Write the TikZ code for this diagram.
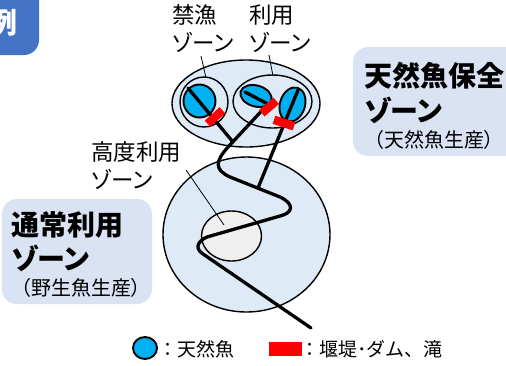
\documentclass[tikz,border=0pt]{standalone}
\usepackage{fontspec}
\setmainfont{Noto Sans CJK JP}[RawFeature=+palt]
\newfontfamily\legfont{Noto Sans CJK JP}
\usetikzlibrary{shapes.geometric}
\definecolor{boxblue}{HTML}{DAE3F3}
\definecolor{zoneblue}{HTML}{DEEBF7}
\definecolor{fishblue}{HTML}{00B0F0}
\definecolor{tabblue}{HTML}{4472C4}
\definecolor{innergray}{HTML}{EFEFEF}
\definecolor{damred}{HTML}{FF0000}
\begin{document}
\begin{tikzpicture}[x=1pt,y=-1pt,
  zone/.style={ellipse, draw=black, line width=1.4pt, fill=zoneblue, inner sep=0pt, outer sep=0pt},
  ring/.style={ellipse, draw=black, line width=1.4pt, inner sep=0pt, outer sep=0pt},
  fish/.style={ellipse, draw=black, line width=1.9pt, fill=fishblue, inner sep=0pt, outer sep=0pt},
  dam/.style={rectangle, fill=damred, inner sep=0pt, outer sep=0pt},
  river/.style={line width=3.3pt, line cap=round, line join=round},
  leader/.style={line width=0.8pt},
  lbl/.style={anchor=west, inner sep=0pt, font=\fontsize{22.5}{22.5}\selectfont},
  ttl/.style={anchor=west, inner sep=0pt, font=\fontsize{28}{28}\selectfont\bfseries},
  sub/.style={anchor=west, inner sep=0pt, font=\fontsize{20}{20}\selectfont},
  leg/.style={anchor=west, inner sep=0pt, font=\legfont\fontsize{19}{19}\selectfont}
]
\useasboundingbox (0,0) rectangle (506,365);
\clip (0,0) rectangle (506,365);
\fill[white] (0,0) rectangle (506,365);

% tab
\fill[tabblue, rounded corners=15pt] (-30,-30) rectangle (39,55);
\node[anchor=center, inner sep=0pt, text=white, font=\fontsize{29}{29}\selectfont\bfseries] (tab) at (3,22) {例};

% side boxes
\fill[boxblue, rounded corners=15pt] (353,47) rectangle (540,156);
\fill[boxblue, rounded corners=15pt] (2,199) rectangle (152,304);
\node[ttl] (t1a) at (364,76) {天然魚保全};
\node[ttl] (t1b) at (364,110) {ゾーン};
\node[sub] (t1c) at (374,140) {（天然魚生産）};
\node[ttl] (t2a) at (11,225) {通常利用};
\node[ttl] (t2b) at (11,258) {ゾーン};
\node[sub] (t2c) at (21,288) {（野生魚生産）};

% zones
\node[zone, minimum width=148pt, minimum height=87pt] (upper) at (246,103.5) {};
\node[zone, minimum width=167pt, minimum height=155pt] (lower) at (246.5,234.5) {};
\node[ellipse, draw=black, line width=1.4pt, fill=innergray, inner sep=0pt, minimum width=60pt, minimum height=50pt] (core) at (231.5,236) {};
\node[ring, minimum width=48pt, minimum height=50pt] (ringL) at (204,102) {};
\node[ring, minimum width=79pt, minimum height=53pt] (ringR) at (272.5,101.5) {};

% fish
\node[fish, minimum width=32pt, minimum height=33pt] (fishL) at (199.5,101) {};
\node[fish, minimum width=32pt, minimum height=21pt, rotate=-16] (fishM) at (256,96) {};
\node[fish, minimum width=25pt, minimum height=35pt, rotate=-17] (fishR) at (292.5,104.5) {};

% river
\coordinate (m0) at (245,92);
\coordinate (m1) at (268,104);
\coordinate (m2) at (229,146);
\coordinate (m3) at (230,177);
\coordinate (m4) at (280,197);
\coordinate (m5) at (280,216);
\coordinate (m6) at (207,237);
\coordinate (m7) at (203,254);
\coordinate (mend) at (311,328);
\draw[river] (m0) -- (m1) -- (m2) .. controls (214,162) and (215,170) .. (m3) -- (m4)
  .. controls (295,204) and (293,213) .. (m5) -- (m6)
  .. controls (198,241) and (194,248) .. (m7) -- (mend);
\coordinate (l0) at (188,88);
\coordinate (l1) at (233,142);
\draw[river] (l0) -- (l1);
\coordinate (r0) at (298,90);
\coordinate (r1) at (258,188);
\draw[river] (r0) -- (r1);

% dams
\node[dam, minimum width=20pt, minimum height=8.5pt, rotate=42] (damL) at (215,117) {};
\node[dam, minimum width=19pt, minimum height=8.5pt, rotate=41] (damM) at (269,107) {};
\node[dam, minimum width=21pt, minimum height=8.5pt, rotate=-18] (damR) at (284,123) {};

% labels
\node[lbl] (k1) at (172,15) {禁漁};
\node[lbl] (k2) at (172,42) {ゾーン};
\node[lbl] (u1) at (249,15) {利用};
\node[lbl] (u2) at (249,42) {ゾーン};
\node[lbl] (h1) at (91,152) {高度利用};
\node[lbl] (h2) at (91,179) {ゾーン};
\coordinate (k2a) at (201,56);
\coordinate (k2b) at (206,78);
\coordinate (u2a) at (269,55);
\coordinate (u2b) at (273,76);
\coordinate (h2a) at (186,170);
\coordinate (h2b) at (224,225);
\draw[leader] (k2a) -- (k2b);
\draw[leader] (u2a) -- (u2b);
\draw[leader] (h2a) -- (h2b);

% legend
\node[fish, minimum width=24pt, minimum height=22pt] (legfish) at (145,348) {};
\node[leg] (legt1) at (158,349) {：天然魚};
\node[dam, minimum width=33pt, minimum height=14pt] (legdam) at (285.5,349) {};
\node[leg] (legt2) at (300,349) {：堰堤･ダム、滝};
\end{tikzpicture}
\end{document}
